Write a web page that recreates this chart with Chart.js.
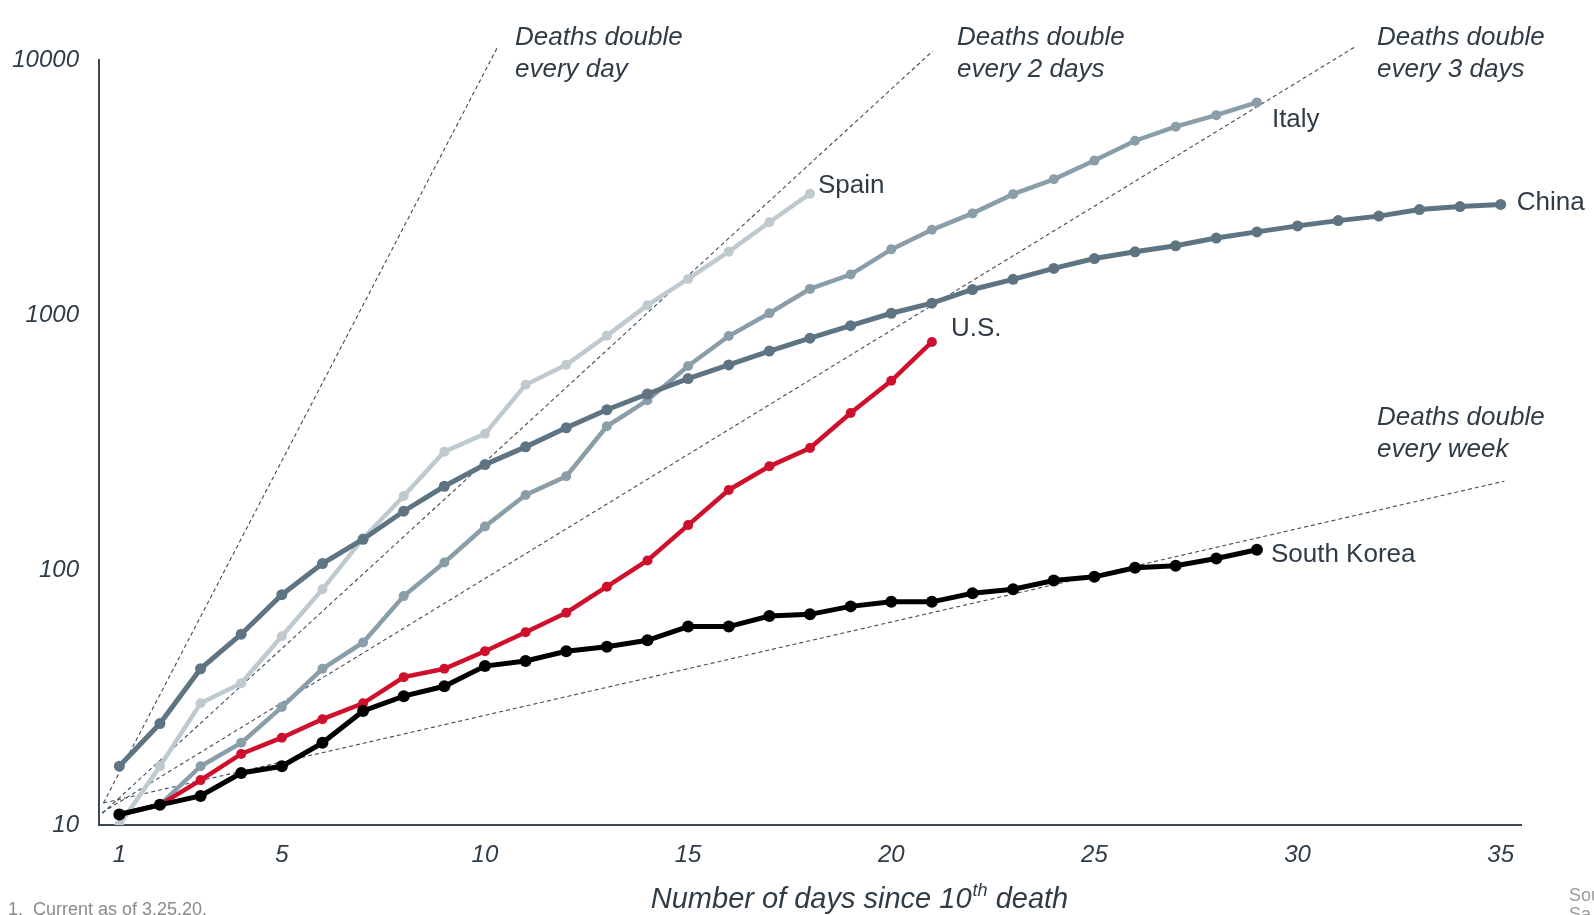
<!DOCTYPE html>
<html><head><meta charset="utf-8">
<script src="https://cdn.jsdelivr.net/npm/chart.js@4/dist/chart.umd.min.js"></script>
<style>html,body{margin:0;padding:0;background:#fff;}canvas{display:block;}</style>
</head><body>
<canvas id="c" width="1594" height="915"></canvas>
<script>
// ---- data ----
const days = [1,2,3,4,5,6,7,8,9,10,11,12,13,14,15,16,17,18,19,20,21,22,23,24,25,26,27,28,29,30,31,32,33,34,35];
const china = [17,25,41,56,80,106,132,170,213,259,304,361,425,490,563,637,722,811,908,1016,1113,1259,1380,1523,1665,1770,1868,2004,2118,2236,2345,2442,2592,2663,2715];
const italy = [11,12,17,21,29,41,52,79,107,148,197,233,366,463,631,827,1016,1266,1441,1809,2158,2503,2978,3405,4032,4825,5476,6077,6820];
const spain = [10,17,30,36,55,84,133,195,291,342,533,638,830,1093,1385,1772,2311,2991];
const us = [11,12,15,19,22,26,30,38,41,48,57,68,86,109,150,206,255,301,413,552,784];
const korea = [11,12,13,16,17,21,28,32,35,42,44,48,50,53,60,60,66,67,72,75,75,81,84,91,94,102,104,111,120];
// reference doubling lines: [day, deaths] end points
const guideDay = [[0.61,12.2],[10.32,11320]];
const guide2 = [[0.58,11.1],[21.02,10840]];
const guide3 = [[0.58,11.2],[31.40,11220]];
const guideWeek = [[0.61,12.2],[35.09,223]];
const xTicks = [1,5,10,15,20,25,30,35];
const yTicks = [10,100,1000,10000];
const seriesNames = ['South Korea','U.S.','China','Italy','Spain'];
const guideTexts = [['Deaths double','every day'],['Deaths double','every 2 days'],['Deaths double','every 3 days'],['Deaths double','every week']];

const FONT = "'Liberation Sans', Arial, sans-serif";
const TXT = '#2f3c47';
const toPts = arr => arr.map((v,i)=>({x:days[i], y:v}));
const toGuide = g => g.map(p=>({x:p[0], y:p[1]}));

function series(label, arr, color, lw, r){
  return {label, data: toPts(arr), borderColor: color, backgroundColor: color,
    borderWidth: lw, pointRadius: r, pointHoverRadius: r, pointBorderWidth: 0, tension: 0};
}
function guide(g){
  return {label:'guide', data: toGuide(g), borderColor:'#3f4b56', borderWidth:1.1,
    borderDash:[4,3], pointRadius:0, clip:false, tension:0};
}

const labelPlugin = {
  id:'labels',
  afterDraw(chart){
    const ctx = chart.ctx, xs = chart.scales.x, ys = chart.scales.y;
    ctx.save();
    // series end labels
    const offs = [[14,5],[19,-13],[16,-2],[15,17],[8,-8]];
    const arrs = [korea, us, china, italy, spain];
    ctx.font = '26px ' + FONT; ctx.fillStyle = TXT; ctx.textBaseline='middle'; ctx.textAlign='left';
    arrs.forEach((a,i)=>{
      const px = xs.getPixelForValue(days[a.length-1]) + offs[i][0];
      const py = ys.getPixelForValue(a[a.length-1]) + offs[i][1];
      ctx.fillText(seriesNames[i], px, py);
    });
    // guide texts
    ctx.font = 'italic 26px ' + FONT;
    const gpos = [[515,38],[957,38],[1377,38],[1377,418]];
    guideTexts.forEach((t,i)=>{
      ctx.fillText(t[0], gpos[i][0], gpos[i][1]);
      ctx.fillText(t[1], gpos[i][0], gpos[i][1]+32);
    });
    // x axis title with superscript
    ctx.font = 'italic 29px ' + FONT; ctx.textBaseline='alphabetic';
    const a1 = 'Number of days since 10', sup='th', a2=' death';
    const w1 = ctx.measureText(a1).width, w3 = ctx.measureText(a2).width;
    ctx.font = 'italic 18px ' + FONT; const w2 = ctx.measureText(sup).width;
    let x0 = 859 - (w1+w2+w3)/2; const base = 908;
    ctx.font = 'italic 29px ' + FONT; ctx.fillText(a1, x0, base);
    ctx.font = 'italic 18px ' + FONT; ctx.fillText(sup, x0+w1+1, base-12);
    ctx.font = 'italic 29px ' + FONT; ctx.fillText(a2, x0+w1+w2+1, base);
    // footnote and source
    ctx.font = '18px ' + FONT; ctx.fillStyle = '#8a8a8a'; ctx.textBaseline='middle';
    ctx.fillText('1.  Current as of 3.25.20.', 8, 910);
    ctx.font = '18px ' + FONT; ctx.fillStyle = '#9a9a9a';
    ctx.fillText('Source: ', 1569, 896);
    ctx.fillText('Sa', 1569, 915);
    ctx.restore();
  }
};

new Chart(document.getElementById('c'), {
  type:'line',
  data:{datasets:[
    series('South Korea', korea, '#000000', 5, 6),
    series('U.S.', us, '#cf102d', 4.5, 5),
    series('China', china, '#5e7482', 5, 5.5),
    series('Italy', italy, '#8a9ea9', 4.5, 5),
    series('Spain', spain, '#bfcad0', 4.5, 5),
    guide(guideDay), guide(guide2), guide(guide3), guide(guideWeek)
  ]},
  options:{
    responsive:false, animation:false, devicePixelRatio:1,
    layout:{padding:{top:60,right:73,left:0,bottom:0}},
    plugins:{legend:{display:false}, tooltip:{enabled:false}},
    events:[],
    scales:{
      x:{type:'linear', min:0.5, max:35.5,
        grid:{display:false, drawTicks:false},
        border:{display:true, color:'#3b4853', width:2},
        ticks:{font:{family:FONT, size:24, style:'italic'}, color:TXT, padding:16, autoSkip:false, maxRotation:0},
        afterBuildTicks: s => { s.ticks = xTicks.map(v=>({value:v})); },
        afterFit: s => { s.height = 90; }
      },
      y:{type:'logarithmic', min:10, max:10000,
        grid:{display:false, drawTicks:false},
        border:{display:true, color:'#3b4853', width:2},
        ticks:{font:{family:FONT, size:24, style:'italic'}, color:TXT, padding:20, callback: v => String(v)},
        afterBuildTicks: s => { s.ticks = yTicks.map(v=>({value:v})); },
        afterFit: s => { s.width = 99; }
      }
    }
  },
  plugins:[labelPlugin]
});
</script>
</body></html>
